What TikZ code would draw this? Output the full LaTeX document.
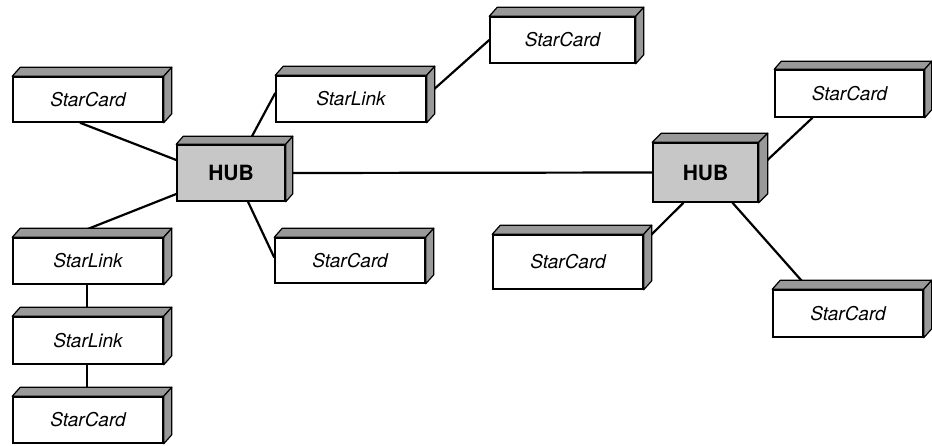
\documentclass[tikz,border=0pt]{standalone}
\usepackage{fontspec}
\setmainfont{TeX Gyre Heros}
\usetikzlibrary{backgrounds}
\tikzset{
  boxfront/.style={draw=black, line width=1.5pt, fill=white, inner sep=0pt,
    font=\fontsize{19}{21}\selectfont\itshape},
  hubfront/.style={boxfront, fill=black!22, font=\fontsize{21}{24}\selectfont\bfseries},
  face/.style={draw=black, line width=1.2pt, fill=black!40, line join=round},
  link/.style={draw=black, line width=2.2pt},
}
% name, left, top, right, bottom, text, style, dx, dy
\newcommand\threedbox[9]{%
  \node[#7, minimum width={(#4-#2)*1pt}, minimum height={(#5-#3)*1pt}] (#1)
    at ({(#2+#4)/2},{(#3+#5)/2}) {#6};
  \filldraw[face] (#1.north west) -- ++(#8,-#9) -- ([shift={(#8pt,#9pt)}]#1.north east) -- (#1.north east) -- cycle;
  \filldraw[face] (#1.north east) -- ([shift={(#8pt,#9pt)}]#1.north east) -- ([shift={(#8pt,#9pt)}]#1.south east) -- (#1.south east) -- cycle;
}
\begin{document}
\begin{tikzpicture}[x=1pt,y=-1pt]
\useasboundingbox (0,0) rectangle (932,445);
\threedbox{c1}{13}{77}{163}{122}{StarCard}{boxfront}{8}{9}
\threedbox{l1}{276}{76}{426}{122}{StarLink}{boxfront}{8}{9}
\threedbox{c2}{490}{17}{635}{63}{StarCard}{boxfront}{8}{9}
\threedbox{h1}{177}{145}{285}{201}{HUB}{hubfront}{7}{8}
\threedbox{h2}{653}{143}{758}{202}{HUB}{hubfront}{9}{9}
\threedbox{c3}{775}{70}{924}{117}{StarCard}{boxfront}{7}{8}
\threedbox{c4}{275}{238}{425}{283}{StarCard}{boxfront}{8}{9}
\threedbox{c5}{493}{235}{643}{289}{StarCard}{boxfront}{8}{9}
\threedbox{c6}{773}{290}{923}{337}{StarCard}{boxfront}{8}{9}
\threedbox{l2}{13}{238}{163}{284}{StarLink}{boxfront}{8}{9}
\threedbox{l3}{13}{317}{163}{364}{StarLink}{boxfront}{8}{9}
\threedbox{c7}{13}{397}{163}{443}{StarCard}{boxfront}{8}{9}
\begin{pgfonlayer}{background}
\fill[white] (0,0) rectangle (932,445);
\draw[link] ([xshift=-8pt]c1.south) -- ([yshift=13pt]h1.west);
\draw[link] ([yshift=-21pt]h1.west) -- ([shift={(-6pt,6pt)}]l2.north);
\draw[link] ([shift={(21pt,8pt)}]h1.north) -- ([yshift=6pt]l1.west);
\draw[link] ([shift={(3pt,6pt)}]l1.east) -- (c2.west);
\draw[link] ([xshift=17pt]h1.south) -- ([yshift=3pt]c4.west);
\draw[link] (h1.east) -- (h2.west);
\draw[link] ([shift={(5pt,9pt)}]h2.east) -- ([xshift=-37pt]c3.south);
\draw[link] ([xshift=-22pt]h2.south) -- ([shift={(6pt,-2pt)}]c5.north east);
\draw[link] ([xshift=27pt]h2.south) -- ([shift={(-45pt,7pt)}]c6.north);
\draw[link] ([xshift=-1pt]l2.south) -- ([shift={(-1pt,6pt)}]l3.north);
\draw[link] ([xshift=-1pt]l3.south) -- ([shift={(-1pt,6pt)}]c7.north);
\end{pgfonlayer}
\end{tikzpicture}
\end{document}
